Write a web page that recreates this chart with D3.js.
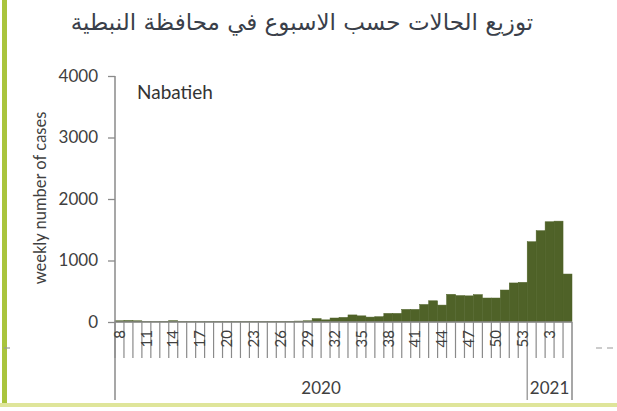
<!DOCTYPE html>
<html>
<head>
<meta charset="utf-8">
<script src="https://cdn.jsdelivr.net/npm/d3@7"></script>
<style>
body { margin: 0; background: #fff; }
svg { display: block; }
</style>
</head>
<body>
<svg id="chart" width="617" height="411"></svg>
<script>
// weekly cases, Nabatieh
var weeks2020 = [8,9,10,11,12,13,14,15,16,17,18,19,20,21,22,23,24,25,26,27,28,29,30,
	31,32,33,34,35,36,37,38,39,40,41,42,43,44,45,46,47,48,49,50,51,52,53];
var cases2020 = [20,25,20,5,5,10,22,8,5,5,5,5,5,5,8,8,8,8,10,12,15,20,55,
	35,65,75,115,100,80,86,140,140,205,205,285,345,275,450,430,425,445,390,390,520,635,645];
var weeks2021 = [1,2,3,4,5];
var cases2021 = [1305,1485,1630,1640,780];
var yTicks = [0,1000,2000,3000,4000];
var years = ["2020","2021"];

var cats = [];
for (var i = 0; i<weeks2020.length; i++) cats.push({id: "2020-"+weeks2020[i], week: weeks2020[i], year: "2020", value: cases2020[i]});
for (var i = 0; i<weeks2021.length; i++) cats.push({id: "2021-"+weeks2021[i], week: weeks2021[i], year: "2021", value: cases2021[i]});

var svg = d3.select("#chart");
var plotLeft = 115, plotRight = 572, plotTop = 76, plotBase = 322, groupBottom = 400;
var axisColor = "#8a8a8a";
var textColor = "#404040";
var font = "Lato, 'Open Sans', sans-serif";

var x = d3.scaleBand().domain(cats.map(function(d){return d.id;})).range([plotLeft, plotRight]).padding(0);
var y = d3.scaleLinear().domain([0,4000]).range([plotBase, plotTop]);

// frame decoration
svg.append("rect").attr("x", 2).attr("y", 0).attr("width", 5).attr("height", 407).attr("fill", "#a9c43c");
svg.append("rect").attr("x", 0).attr("y", 403).attr("width", 617).attr("height", 4).attr("fill", "#dfe59a");
svg.append("line").attr("x1", 0).attr("x2", 14).attr("y1", 348).attr("y2", 348)
	.attr("stroke", "#999").attr("stroke-width", 1.2).attr("stroke-dasharray", "6,6").attr("stroke-dashoffset", -4);
svg.append("line").attr("x1", 596).attr("x2", 617).attr("y1", 348).attr("y2", 348)
	.attr("stroke", "#999").attr("stroke-width", 1.2).attr("stroke-dasharray", "6,5");

// title
svg.append("text")
	.attr("x", 302).attr("y", 30)
	.attr("text-anchor", "middle")
	.attr("direction", "rtl")
	.attr("font-family", "'DejaVu Sans', sans-serif")
	.attr("font-size", 23)
	.attr("fill", "#3a3f4a")
	.text("توزيع الحالات حسب الاسبوع في محافظة النبطية");

// bars
svg.append("g").selectAll("rect").data(cats).join("rect")
	.attr("x", function(d){return x(d.id);})
	.attr("width", x.bandwidth())
	.attr("y", function(d){return y(d.value);})
	.attr("height", function(d){return plotBase - y(d.value);})
	.attr("fill", "#4f6228")
	.attr("stroke", "#4f6228")
	.attr("stroke-width", 0.5);

// y axis
var yAxis = svg.append("g").attr("transform", "translate("+plotLeft+",0)")
	.call(d3.axisLeft(y).tickValues(yTicks).tickSize(7).tickSizeOuter(0).tickPadding(10).tickFormat(d3.format("d")));
yAxis.select(".domain").remove();
yAxis.selectAll("line").attr("stroke", axisColor).attr("stroke-width", 1.3);
yAxis.selectAll("text").attr("font-family", font).attr("font-size", 17).attr("fill", textColor);
svg.append("line").attr("x1", plotLeft).attr("x2", plotLeft).attr("y1", plotTop).attr("y2", groupBottom)
	.attr("stroke", axisColor).attr("stroke-width", 1.5);

svg.append("text")
	.attr("transform", "translate(46,198) rotate(-90)")
	.attr("text-anchor", "middle")
	.attr("font-family", font).attr("font-size", 16.5).attr("fill", textColor)
	.text("weekly number of cases");

// x axis
svg.append("line").attr("x1", plotLeft).attr("x2", plotRight).attr("y1", plotBase).attr("y2", plotBase)
	.attr("stroke", axisColor).attr("stroke-width", 1.5);
svg.append("g").selectAll("line").data(cats).join("line")
	.attr("x1", function(d){return x(d.id);}).attr("x2", function(d){return x(d.id);})
	.attr("y1", plotBase).attr("y2", function(d){return d.week == 1 ? groupBottom : 358;})
	.attr("stroke", axisColor).attr("stroke-width", 1.2);
svg.append("line").attr("x1", plotRight).attr("x2", plotRight).attr("y1", plotBase).attr("y2", groupBottom)
	.attr("stroke", axisColor).attr("stroke-width", 1.5);

var xAxis = svg.append("g").attr("transform", "translate(0,"+plotBase+")")
	.call(d3.axisBottom(x).tickSize(0).tickValues(cats.filter(function(d, i){return i%3==0;}).map(function(d){return d.id;}))
		.tickFormat(function(id){return id.split("-")[1];}));
xAxis.select(".domain").remove();
xAxis.selectAll("text")
	.attr("font-family", font).attr("font-size", 15).attr("fill", textColor)
	.attr("transform", "rotate(-90)")
	.attr("text-anchor", "end")
	.attr("x", -8).attr("y", 0).attr("dy", "0.35em");

// year labels
svg.append("g").selectAll("text").data(years).join("text")
	.attr("x", function(yr){
		var ids = cats.filter(function(d){return d.year == yr;});
		return (x(ids[0].id) + x(ids[ids.length-1].id) + x.bandwidth())/2;
	})
	.attr("y", 394)
	.attr("text-anchor", "middle")
	.attr("font-family", font).attr("font-size", 17).attr("fill", textColor)
	.text(function(d){return d;});

svg.append("text").attr("x", 137).attr("y", 99)
	.attr("font-family", font).attr("font-size", 19).attr("fill", "#333")
	.text("Nabatieh");
</script>
</body>
</html>
